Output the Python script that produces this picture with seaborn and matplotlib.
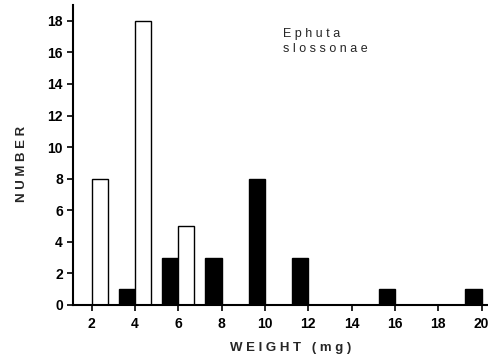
import matplotlib
matplotlib.use("Agg")
import matplotlib.pyplot as plt
import seaborn as sns
import pandas as pd

# Data
black_weights = [4, 6, 8, 10, 12, 16, 20]
black_counts = [1, 3, 3, 8, 3, 1, 1]
white_weights = [2, 4, 6]
white_counts = [8, 18, 5]
x_ticks = [2, 4, 6, 8, 10, 12, 14, 16, 18, 20]
y_ticks = [0, 2, 4, 6, 8, 10, 12, 14, 16, 18]

half = 0.375
df_black = pd.DataFrame({"w": [w - half for w in black_weights], "n": black_counts})
df_white = pd.DataFrame({"w": [w + half for w in white_weights], "n": white_counts})

sns.set_style("ticks")
plt.rcParams["font.family"] = ["Liberation Sans", "DejaVu Sans"]

fig = plt.figure(figsize=(4.88, 3.6), dpi=100)
ax = fig.add_axes([0.15, 0.153, 0.85, 0.833])

sns.barplot(data=df_black, x="w", y="n", native_scale=True, width=0.375,
            color="black", edgecolor="black", linewidth=1.0, saturation=1, ax=ax)
sns.barplot(data=df_white, x="w", y="n", native_scale=True, width=0.375,
            color="white", edgecolor="black", linewidth=1.0, saturation=1, ax=ax)

ax.set_xlim(1.15, 20.3)
ax.set_ylim(0, 19)
ax.set_xticks(x_ticks)
ax.set_xticklabels([str(t) for t in x_ticks])
ax.set_yticks(y_ticks)
ax.set_yticklabels([str(t) for t in y_ticks])
ax.tick_params(axis="both", direction="out", length=4, width=1.2, labelsize=10,
               color="black", labelcolor="black")
ax.tick_params(axis="x", pad=5)
for lbl in ax.get_xticklabels() + ax.get_yticklabels():
    lbl.set_fontweight("bold")

for s in ["top", "right"]:
    ax.spines[s].set_visible(False)
for s in ["left", "bottom"]:
    ax.spines[s].set_linewidth(1.5)
    ax.spines[s].set_color("black")

ax.set_xlabel("W E I G H T   ( m g )", fontsize=9.5, fontweight="bold")
ax.xaxis.set_label_coords(0.523, -0.125)
ax.set_ylabel("N U M B E R", fontsize=9.5, fontweight="bold")
ax.yaxis.set_label_coords(-0.11, 0.47)

ax.text(0.505, 0.925, "E p h u t a\ns l o s s o n a e", transform=ax.transAxes,
        fontsize=9, ha="left", va="top", linespacing=1.35)

fig.savefig("out.png", dpi=100)
